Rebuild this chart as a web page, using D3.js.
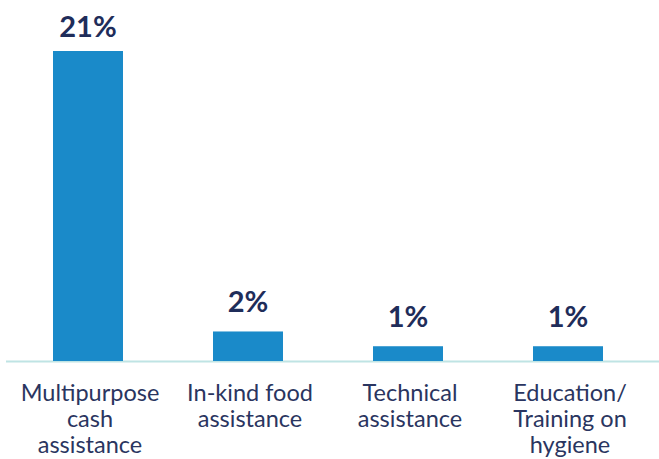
<!DOCTYPE html>
<html><head><meta charset="utf-8">
<script src="https://cdn.jsdelivr.net/npm/d3@7"></script>
<style>html,body{margin:0;padding:0;background:#fff;}svg{display:block;}</style>
</head><body><svg id="c" width="659" height="459"></svg>
<script>
const categories = [["Multipurpose","cash","assistance"],["In-kind food","assistance"],["Technical","assistance"],["Education/","Training on","hygiene"]];
const values = [21, 2, 1, 1];
const valueLabels = ["21%", "2%", "1%", "1%"];

const svg = d3.select("#c");
const baseline = 361;
const x = d3.scaleBand().domain(d3.range(values.length)).range([8, 648]).paddingInner(0.5625).paddingOuter(0.28125);
const y = d3.scaleLinear().domain([0, 21]).range([baseline, 51]);

svg.append("line").attr("x1", 6).attr("x2", 659).attr("y1", baseline + 0.5).attr("y2", baseline + 0.5)
  .attr("stroke", "#bfe4e4").attr("stroke-width", 2);

svg.selectAll("rect.bar").data(values).enter().append("rect").attr("class","bar")
  .attr("x", (d,i) => x(i)).attr("width", x.bandwidth())
  .attr("y", d => y(d)).attr("height", d => baseline - y(d))
  .attr("fill", "#1a8ac9");

svg.selectAll("text.val").data(values).enter().append("text").attr("class","val")
  .attr("x", (d,i) => x(i) + x.bandwidth()/2)
  .attr("y", d => Math.max(y(d) - 19, 37))
  .attr("text-anchor", "middle")
  .attr("font-family", "Lato, sans-serif").attr("font-weight", "bold").attr("font-size", 29)
  .attr("fill", "#1f2d5a")
  .text((d,i) => valueLabels[i]);

const cat = svg.selectAll("text.cat").data(categories).enter().append("text").attr("class","cat")
  .attr("text-anchor", "middle")
  .attr("font-family", "Lato, sans-serif").attr("font-size", 23.5)
  .attr("fill", "#2a3560");
cat.selectAll("tspan").data((d,i) => d.map(t => ({t, i}))).enter().append("tspan")
  .attr("x", d => x(d.i) + x.bandwidth()/2 + 2)
  .attr("y", (d,j) => 401 + j*26)
  .text(d => d.t);
</script></body></html>
